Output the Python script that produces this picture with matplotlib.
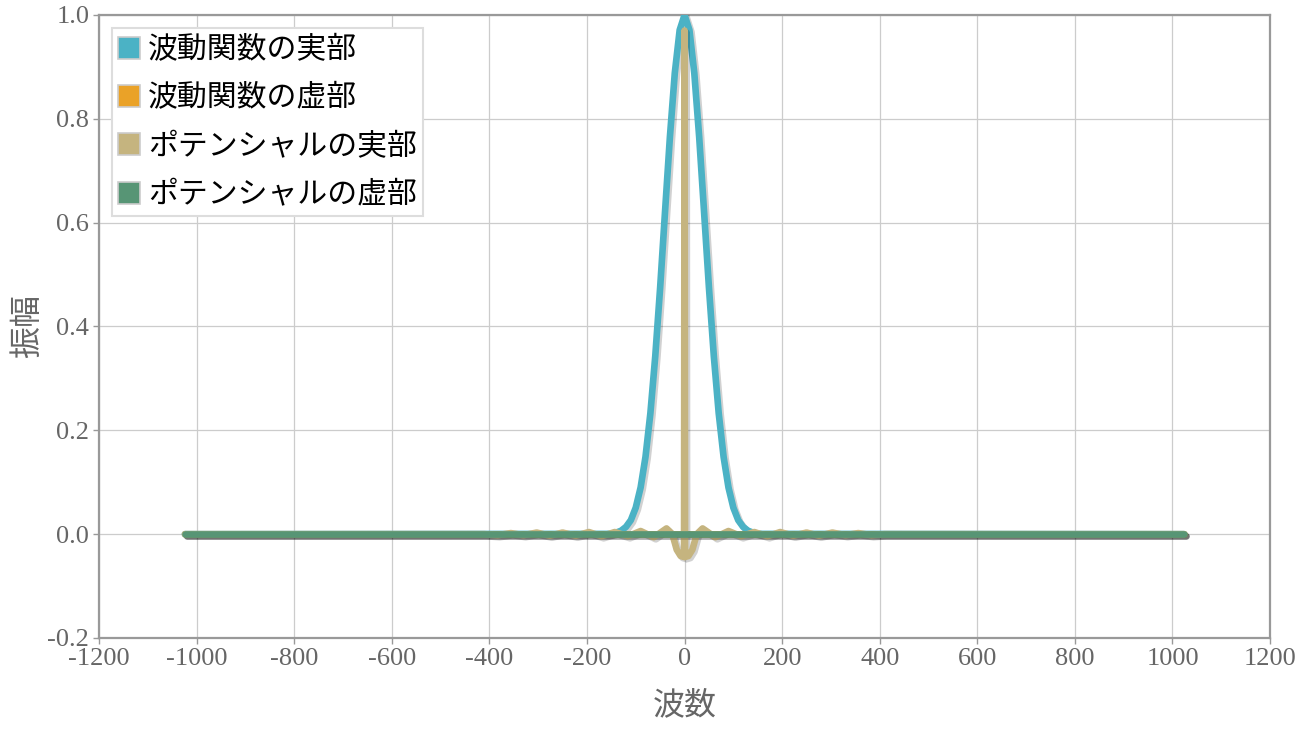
import matplotlib
matplotlib.use("Agg")
import matplotlib.pyplot as plt
import matplotlib.patheffects as pe
from matplotlib.patches import Patch

# series colors (jqPlot defaults)
colors = ["#4bb2c5", "#eaa228", "#c5b47f", "#579575"]
labels = ["波動関数の実部", "波動関数の虚部", "ポテンシャルの実部", "ポテンシャルの虚部"]

# wave function, real part
wave_x = [-1024, -160, -150, -140, -130, -120, -110, -100, -90, -80, -70, -60, -50, -40, -30, -20, -10,
          0, 10, 20, 30, 40, 50, 60, 70, 80, 90, 100, 110, 120, 130, 140, 150, 160, 1024]
wave_re = [0.0, 0.0005, 0.001, 0.003, 0.0066, 0.014, 0.027, 0.051, 0.090, 0.149, 0.233, 0.343, 0.475, 0.621, 0.765, 0.888, 0.971,
           1.0, 0.971, 0.888, 0.765, 0.621, 0.475, 0.343, 0.233, 0.149, 0.090, 0.051, 0.027, 0.014, 0.0066, 0.003, 0.001, 0.0005, 0.0]
# wave function, imaginary part
wave_im_x = [-1024, 1024]
wave_im = [0.0, 0.0]

# potential, real part
pot_x = [-1024, -410, -383, -356, -330, -303, -276, -250, -223, -196, -170, -143, -116, -90, -63, -37, -25, -16, -8, -1,
         0, 1, 8, 16, 25, 37, 63, 90, 116, 143, 170, 196, 223, 250, 276, 303, 330, 356, 383, 410, 1024]
pot_re = [0.0, 0.0, -0.002, 0.002, -0.002, 0.003, -0.003, 0.003, -0.003, 0.004, -0.004, 0.004, -0.004, 0.006, -0.006, 0.011, 0.0, -0.03, -0.042, -0.044,
          0.97, -0.044, -0.042, -0.03, 0.0, 0.011, -0.006, 0.006, -0.004, 0.004, -0.004, 0.004, -0.003, 0.003, -0.003, 0.003, -0.002, 0.002, -0.002, 0.0, 0.0]
# potential, imaginary part
pot_im_x = [-1024, 1024]
pot_im = [0.0, 0.0]

x_ticks = [-1200, -1000, -800, -600, -400, -200, 0, 200, 400, 600, 800, 1000, 1200]
y_ticks = [-0.2, 0.0, 0.2, 0.4, 0.6, 0.8, 1.0]

fig = plt.figure(figsize=(12.96, 7.35), dpi=100)
ax = fig.add_axes([0.0764, 0.132, 0.9036, 0.8476])

shadow = [pe.SimpleLineShadow(offset=(1.5, -1.5), shadow_color="k", alpha=0.18), pe.Normal()]
series = [(wave_x, wave_re), (wave_im_x, wave_im), (pot_x, pot_re), (pot_im_x, pot_im)]
for (xs, ys), c in zip(series, colors):
    ax.plot(xs, ys, color=c, lw=4.8, solid_capstyle="round", solid_joinstyle="round",
            path_effects=shadow, zorder=3)

ax.set_xlim(-1200, 1200)
ax.set_ylim(-0.2, 1.0)
ax.set_xticks(x_ticks)
ax.set_yticks(y_ticks)
ax.set_xticklabels([str(t) for t in x_ticks])
ax.set_yticklabels([f"{t:.1f}" for t in y_ticks])
ax.grid(True, color="#cccccc", lw=0.9, zorder=0)
ax.set_axisbelow(True)
for side in ["left", "bottom", "top", "right"]:
    ax.spines[side].set_color("#999999")
    ax.spines[side].set_linewidth(1.6)
ax.tick_params(colors="#999999", length=4, width=1, labelcolor="#666666", labelsize=19, pad=3)
for lbl in ax.get_xticklabels() + ax.get_yticklabels():
    lbl.set_family("Liberation Serif")

ax.set_xlabel("波数", family=["Noto Sans CJK JP", "DejaVu Sans"], fontsize=23, color="#666666", labelpad=14)
ax.set_ylabel("振幅", family=["Noto Sans CJK JP", "DejaVu Sans"], fontsize=23, color="#666666")
ax.yaxis.set_label_coords(-0.048, 0.5)

handles = [Patch(facecolor=c, edgecolor="#cccccc", lw=1.2) for c in colors]
leg = ax.legend(handles, labels, loc="upper left", bbox_to_anchor=(0.011, 0.979),
                prop={"family": ["Noto Sans CJK JP", "DejaVu Sans"], "size": 21.5},
                handlelength=0.75, handleheight=0.75, handletextpad=0.25, labelspacing=0.58,
                borderpad=0.2, borderaxespad=0.0, fancybox=False, framealpha=1.0)
leg.get_frame().set_edgecolor("#dddddd")
leg.get_frame().set_linewidth(1.5)

fig.savefig("out.png", dpi=100)
